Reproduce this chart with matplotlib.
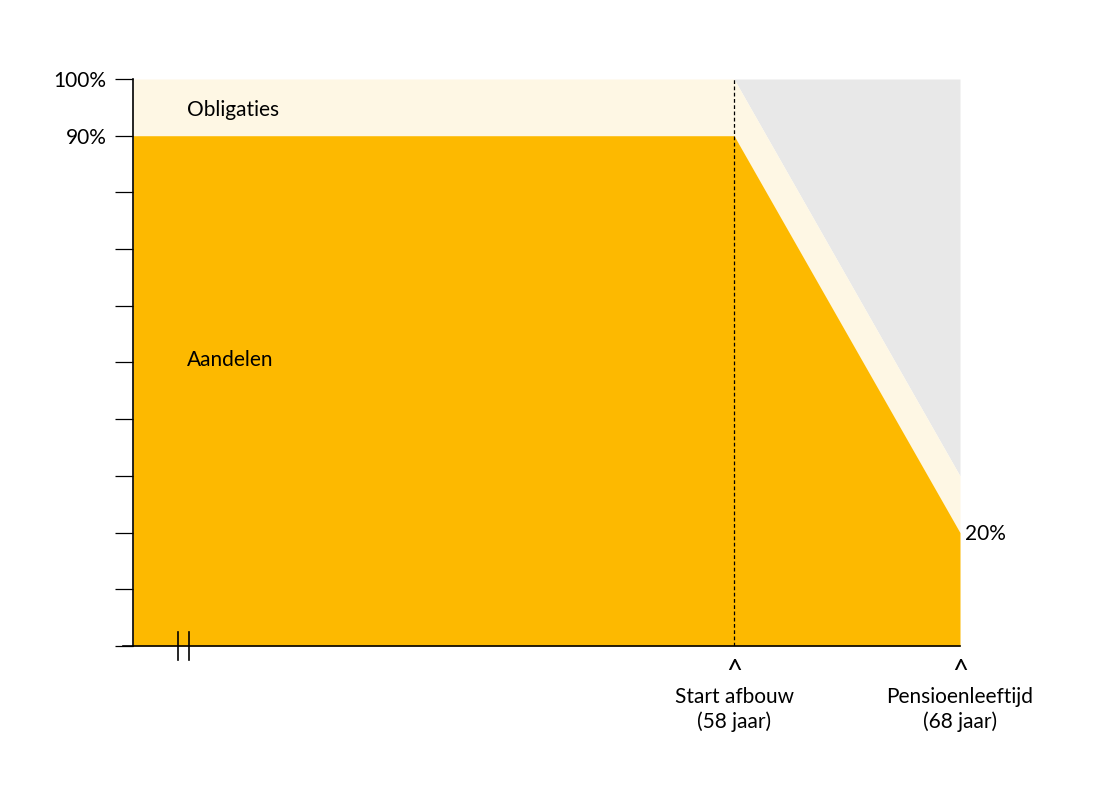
import matplotlib
matplotlib.use("Agg")
import matplotlib.pyplot as plt
import numpy as np

# data
ages = [31.4, 58, 68]           # left edge of chart is an axis break
aandelen = [90, 90, 20]         # % equities
obligaties = [10, 10, 10]       # % bonds on top
start_age, pension_age = 58, 68

YEL, CREAM, GREY = "#FDB900", "#FEF7E4", "#E8E8E8"
plt.rcParams["font.family"] = ["Lato", "DejaVu Sans"]

fig = plt.figure(figsize=(10.95, 7.94), dpi=100)
ax = fig.add_axes([133 / 1095, 148 / 794, 827 / 1095, 567 / 794])
top = np.array(aandelen) + np.array(obligaties)
ax.fill_between(ages[1:], top[1:], 100, color=GREY, lw=0)
ax.fill_between(ages, aandelen, top, color=CREAM, lw=0)
ax.fill_between(ages, 0, aandelen, color=YEL, lw=0)
ax.axvline(start_age, ymin=0, ymax=1, color="black", lw=0.9, ls=(0, (3, 2)))

ax.set_xlim(ages[0], pension_age); ax.set_ylim(0, 100)
for s in ["top", "right"]:
    ax.spines[s].set_visible(False)
ax.spines["left"].set_linewidth(1.2); ax.spines["bottom"].set_linewidth(1.2)
ax.set_xticks([])
ax.set_yticks(range(0, 101, 10))
ax.set_yticklabels(["" if v not in (90, 100) else f"{v}%" for v in range(0, 101, 10)], fontsize=15)
ax.tick_params(axis="y", length=13, width=0.9, pad=6)

# bottom line extends left past the axis
ax.plot([ages[0] - 0.45, ages[0]], [0, 0], color="black", lw=1.2, clip_on=False)
# axis break
for xb in (33.4, 33.9):
    ax.plot([xb, xb], [-2.5, 2.5], color="black", lw=1.2, clip_on=False)

ax.text(33.8, 94.5, "Obligaties", fontsize=15, va="center")
ax.text(33.8, 50.5, "Aandelen", fontsize=15, va="center")
ax.text(68.2, 19.8, "20%", fontsize=15, va="center")

for xa, lab in [(start_age, "Start afbouw\n(58 jaar)"), (pension_age, "Pensioenleeftijd\n(68 jaar)")]:
    ax.text(xa, -4.5, "^", fontsize=20, ha="center", va="center", clip_on=False)
    ax.text(xa, -7.2, lab, fontsize=15, ha="center", va="top", linespacing=1.3)

fig.savefig("out.png", dpi=100)
